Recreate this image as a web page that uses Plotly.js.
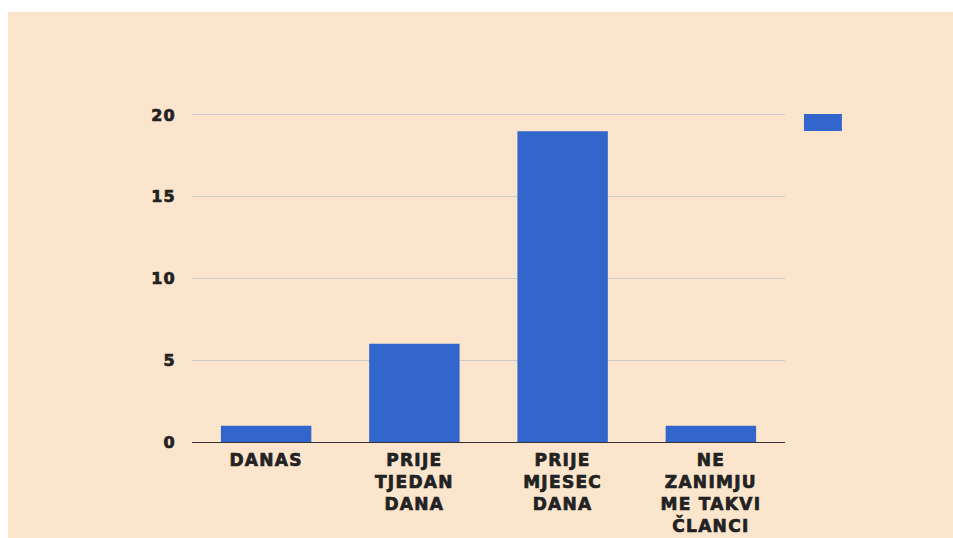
<!DOCTYPE html>
<html>
<head>
<meta charset="utf-8">
<script src="https://cdn.plot.ly/plotly-3.0.1.min.js"></script>
<style>
  html, body { margin: 0; padding: 0; background: #ffffff; }
  #chart { position: absolute; left: 8px; top: 12px; width: 945px; height: 526px; }
  .xtick text, .ytick text { letter-spacing: 1.3px; stroke: #222222; stroke-width: 0.7px; }
</style>
</head>
<body>
<div id="chart"></div>
<script>
const categories = ["DANAS", "PRIJE<br>TJEDAN<br>DANA", "PRIJE<br>MJESEC<br>DANA", "NE<br>ZANIMJU<br>ME TAKVI<br>ČLANCI"];
const values = [1, 6, 19, 1];
const yTicks = [0, 5, 10, 15, 20];

const xFont = { family: "DejaVu Sans, sans-serif", size: 17, color: "#222222", weight: "bold" };
const yFont = { family: "DejaVu Sans, sans-serif", size: 16, color: "#222222", weight: "bold" };

const trace = {
  type: "bar",
  x: categories,
  y: values,
  marker: { color: "#3366CC" },
  width: 0.61,
  hoverinfo: "none",
  showlegend: false
};

const layout = {
  width: 945,
  height: 526,
  paper_bgcolor: "#FCE5CD",
  plot_bgcolor: "#FCE5CD",
  margin: { l: 184, r: 168, t: 98, b: 96 },
  showlegend: false,
  xaxis: {
    type: "category",
    tickfont: xFont,
    showgrid: false,
    showline: false,
    zeroline: false,
    ticks: "",
    ticklabelstandoff: 6,
    fixedrange: true
  },
  yaxis: {
    range: [0, 20.3],
    tickvals: yTicks,
    ticktext: yTicks.map(String),
    tickfont: yFont,
    showgrid: true,
    gridcolor: "#CCCCCC",
    gridwidth: 1,
    zeroline: true,
    zerolinecolor: "#333333",
    zerolinewidth: 1,
    showline: false,
    ticks: "",
    ticklabelstandoff: 15,
    fixedrange: true
  },
  shapes: [
    {
      type: "rect", xref: "paper", yref: "paper",
      x0: 1.032, x1: 1.096, y0: 0.937, y1: 0.988,
      fillcolor: "#3366CC", line: { width: 0 }
    }
  ]
};

Plotly.newPlot("chart", [trace], layout, { displayModeBar: false, staticPlot: true });
</script>
</body>
</html>
